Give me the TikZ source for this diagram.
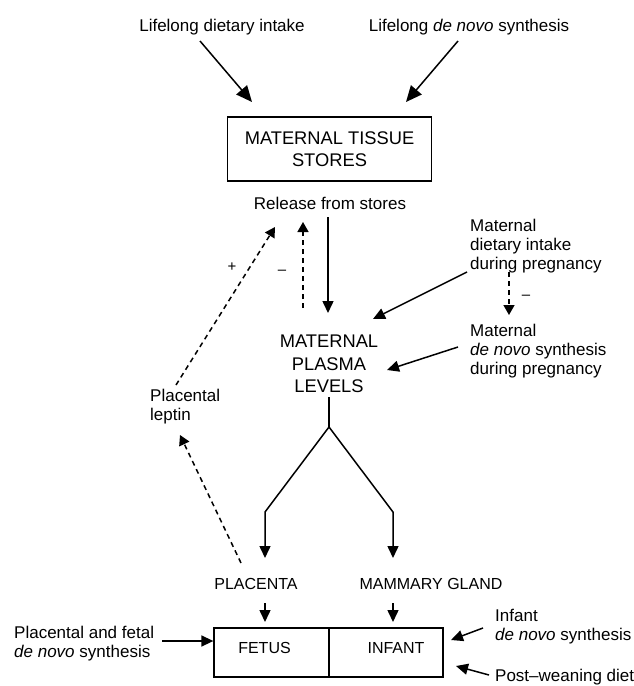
\documentclass[tikz,border=0pt]{standalone}
\usepackage{fontspec}
\setmainfont{Liberation Sans}
\usetikzlibrary{arrows.meta}

\tikzset{
  txt/.style={font=\fontsize{17}{19}\selectfont, inner sep=0pt, align=left},
  capsbig/.style={font=\fontsize{18.3}{22.5}\selectfont, align=center},
  capssmall/.style={font=\fontsize{16}{19}\selectfont, inner sep=0pt},
  sign/.style={font=\fontsize{15}{15}\selectfont, inner sep=0pt},
  storebox/.style={draw, line width=1.3pt},
  arr/.style={-{Triangle[length=12pt,width=11pt]}, line width=1.5pt},
  bigarr/.style={-{Triangle[length=16pt,width=14pt]}, line width=1.5pt},
  darr/.style={-{Triangle[length=10pt,width=11pt]}, line width=1.5pt, dash pattern=on 5pt off 4pt}
}

\begin{document}
\begin{tikzpicture}[x=1pt, y=-1pt]
  \useasboundingbox (0,0) rectangle (633,686);

  % sources at the top
  \node[txt, anchor=base] (ldiet) at (222,31) {Lifelong dietary intake};
  \node[txt, anchor=base] (lsyn) at (469,31) {Lifelong \textit{de novo} synthesis};

  % stores and plasma
  \node[storebox, capsbig, minimum width=204, minimum height=64] (stores) at (329.5,149) {MATERNAL TISSUE\\STORES};
  \node[txt, anchor=base] (release) at (330,209) {Release from stores};
  \node[capsbig, inner sep=4pt] (plasma) at (329,364) {MATERNAL\\PLASMA\\LEVELS};

  \node[txt, anchor=north west] (mdiet) at (470,219) {Maternal\\dietary intake\\during pregnancy};
  \node[txt, anchor=north west] (msyn) at (470,324) {Maternal\\\textit{de novo} synthesis\\during pregnancy};
  \node[txt, anchor=north west] (leptin) at (150,389) {Placental\\leptin};

  \node[sign] (plus) at (232,267) {+};
  \node[sign] (minus) at (282,272) {–};
  \node[sign] (minusb) at (526,297) {–};

  % bottom row
  \node[capssmall, anchor=base] (placenta) at (256,589) {PLACENTA};
  \node[capssmall, anchor=base] (mammary) at (431,589) {MAMMARY GLAND};
  \node[storebox, minimum width=115, minimum height=49, inner sep=0pt] (fetusbox) at (271.5,652.5) {};
  \node[storebox, minimum width=114, minimum height=49, inner sep=0pt] (infantbox) at (386,652.5) {};
  \node[capssmall, anchor=base] (fetus) at (264.5,653) {FETUS};
  \node[capssmall, anchor=base] (infant) at (396,653) {INFANT};

  \node[txt, anchor=north west] (fsyn) at (14,626) {Placental and fetal\\\textit{de novo} synthesis};
  \node[txt, anchor=north west] (isyn) at (495,609) {Infant\\\textit{de novo} synthesis};
  \node[txt, anchor=base west] (wean) at (495,681.5) {Post–weaning diet};

  % connector ends
  \coordinate (ldietA) at (200,41);  \coordinate (ldietB) at (252,102);
  \coordinate (lsynA) at (458,41);   \coordinate (lsynB) at (406,102);
  \coordinate (relA) at (328,217);   \coordinate (relB) at (328,313);
  \coordinate (fbA) at (303,308);    \coordinate (fbB) at (303,222);
  \coordinate (lepA) at (176,385);   \coordinate (lepB) at (275,227);
  \coordinate (plA) at (241,563);    \coordinate (plB) at (180,435);
  \coordinate (mdA) at (467,272);    \coordinate (mdB) at (373,319);
  \coordinate (mdC) at (509,272);    \coordinate (mdD) at (509,315);
  \coordinate (msA) at (458,347);    \coordinate (msB) at (387,370);
  \coordinate (fork) at (329,427);
  \coordinate (forkl) at (265,512);  \coordinate (forkr) at (393,512);
  \coordinate (plaA) at (265,603);   \coordinate (mamA) at (393,603);
  \coordinate (fsA) at (162,641);
  \coordinate (isA) at (483,628);    \coordinate (isB) at (451,640);
  \coordinate (wnA) at (489,675);    \coordinate (wnB) at (456,666);

  % connectors
  \draw[bigarr] (ldietA) -- (ldietB);
  \draw[bigarr] (lsynA) -- (lsynB);
  \draw[arr] (relA) -- (relB);
  \draw[darr] (fbA) -- (fbB);
  \draw[darr] (lepA) -- (lepB);
  \draw[darr] (plA) -- (plB);
  \draw[arr] (mdA) -- (mdB);
  \draw[darr] (mdC) -- (mdD);
  \draw[arr] (msA) -- (msB);
  \draw[line width=1.5pt] (plasma.south) -- (fork);
  \draw[arr] (fork) -- (forkl) -- (forkl |- 0,558);
  \draw[arr] (fork) -- (forkr) -- (forkr |- 0,558);
  \draw[arr] (plaA) -- (plaA |- 0,622);
  \draw[arr] (mamA) -- (mamA |- 0,622);
  \draw[arr] (fsA) -- (fsA -| fetusbox.west);
  \draw[arr] (isA) -- (isB);
  \draw[arr] (wnA) -- (wnB);
\end{tikzpicture}
\end{document}
